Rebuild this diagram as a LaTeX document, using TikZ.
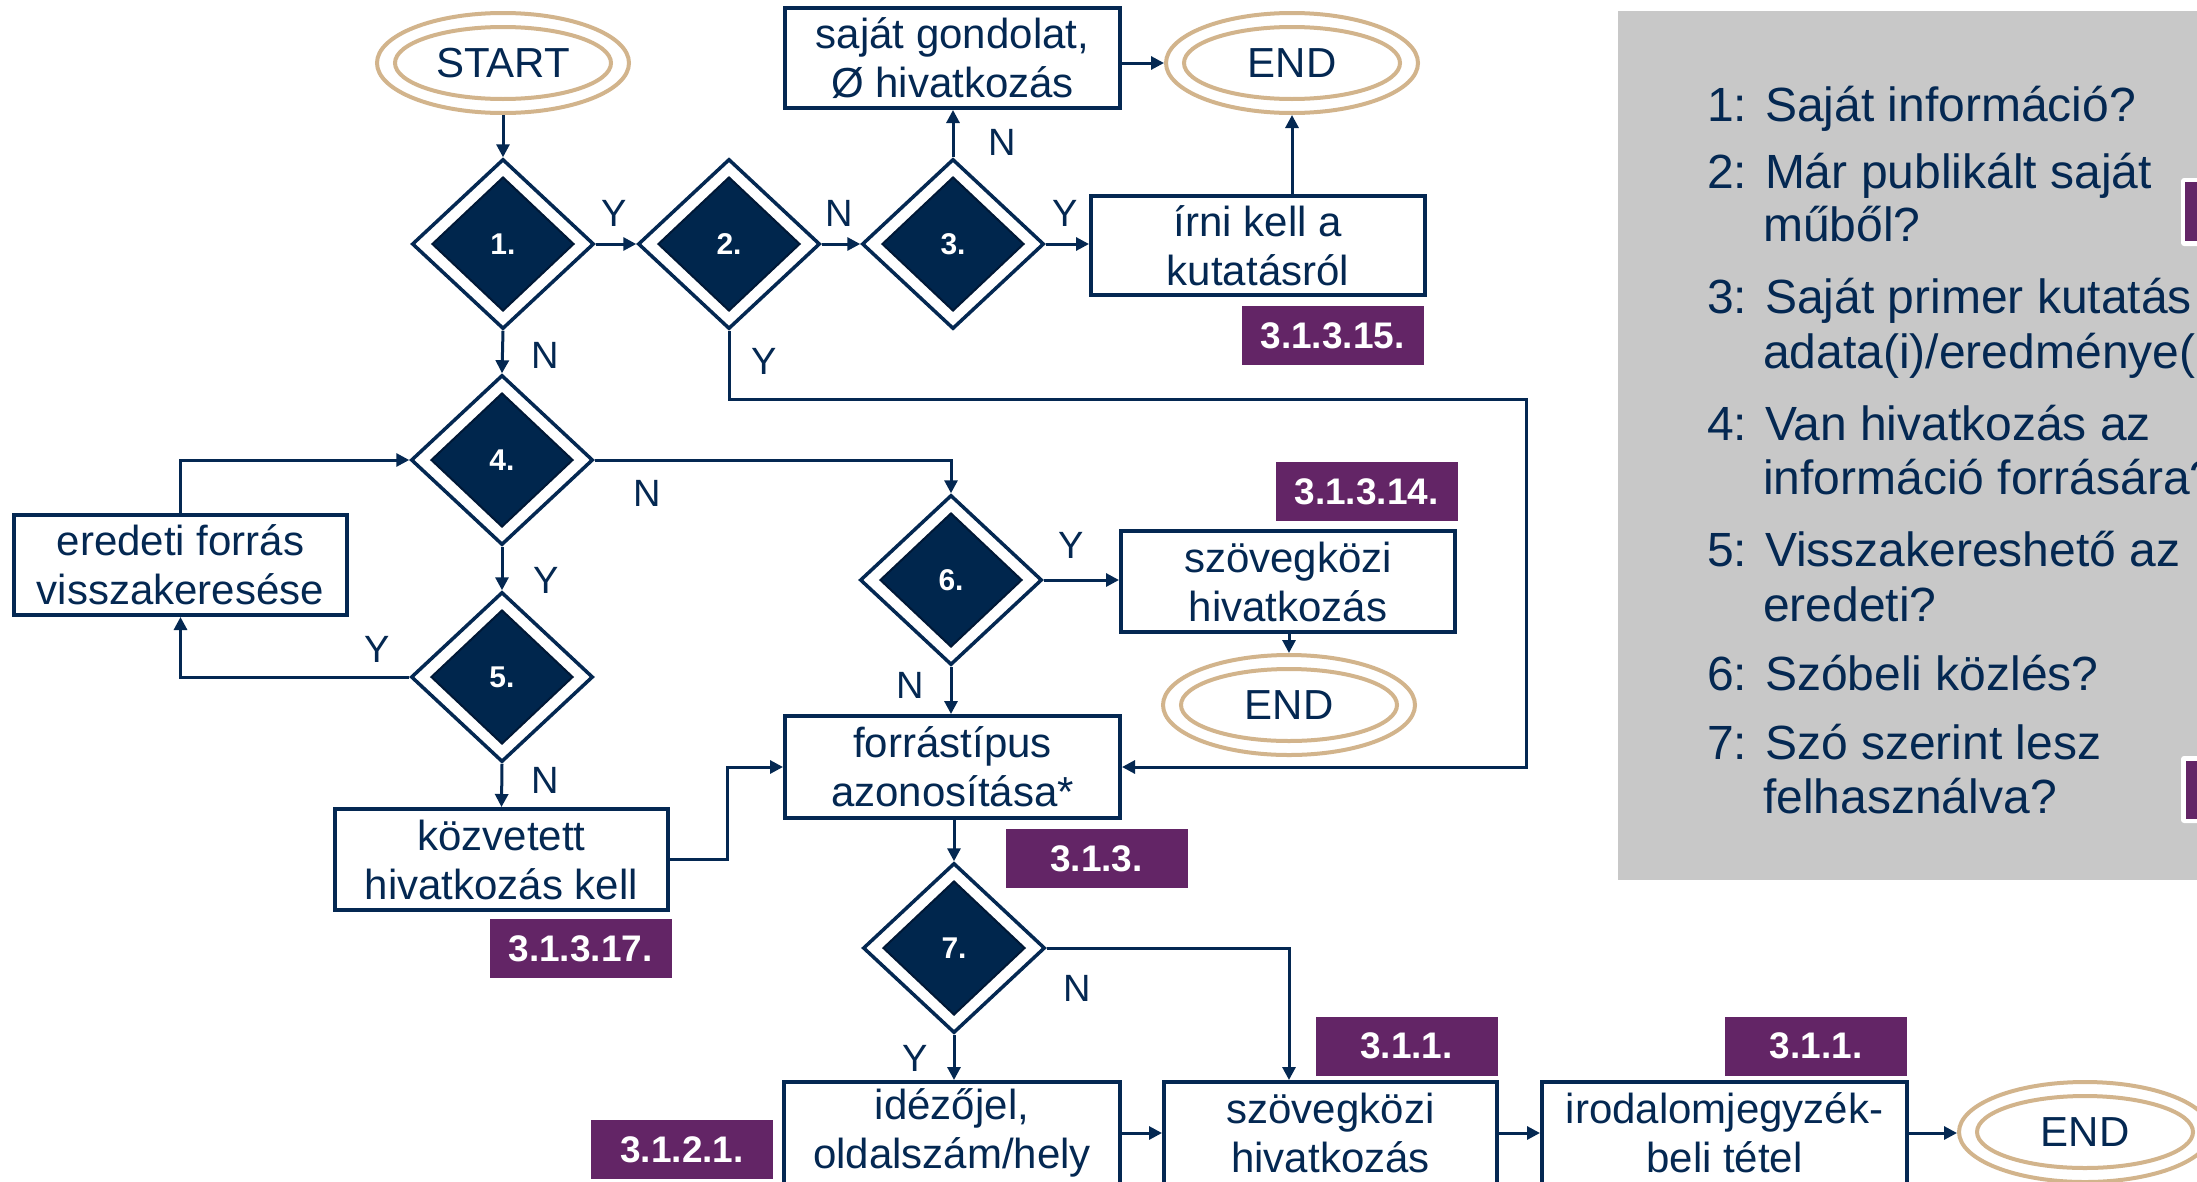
\documentclass[tikz,border=0pt]{standalone}
\usepackage{fontspec}
\setmainfont{Liberation Sans}
\usetikzlibrary{shapes.geometric,arrows.meta}
\definecolor{navy}{RGB}{4,40,82}
\definecolor{diafill}{RGB}{0,38,77}
\definecolor{diaedge}{RGB}{0,24,54}
\definecolor{labpurple}{RGB}{99,37,102}
\definecolor{tanc}{RGB}{210,180,140}
\definecolor{panelgray}{RGB}{200,200,200}
\begin{document}
\begin{tikzpicture}[x=1pt,y=-1pt,
 conn/.style={draw=navy, line width=3pt, -{Triangle[length=13pt,width=13pt]}},
 box/.style={draw=navy, line width=4pt, fill=white, align=center, inner sep=0pt, text=navy, font=\fontsize{42}{49}\selectfont},
 lab/.style={fill=labpurple, text=white, inner sep=0pt, minimum width=182pt, minimum height=59pt, font=\fontsize{37}{40}\selectfont\bfseries},
 yn/.style={text=navy, inner sep=0pt, font=\fontsize{38}{40}\selectfont},
 diaout/.style={diamond, draw=navy, line width=3.5pt, fill=white, minimum width=182pt, minimum height=170pt, inner sep=0pt},
 diain/.style={diamond, draw=diaedge, line width=2pt, fill=diafill, minimum width=142pt, minimum height=134pt, inner sep=0pt, text=white, font=\fontsize{30}{32}\selectfont\bfseries},
 ellout/.style={ellipse, draw=tanc, line width=4pt, fill=white, minimum width=252pt, minimum height=100pt, inner sep=0pt},
 ellin/.style={ellipse, draw=tanc, line width=4pt, minimum width=216pt, minimum height=72pt, inner sep=0pt, text=navy, font=\fontsize{42}{49}\selectfont},
 paneltext/.style={anchor=base west, inner sep=0pt, text=navy, font=\fontsize{48}{54}\selectfont},
]
\useasboundingbox (0,0) rectangle (2197,1181);
\clip (0,0) rectangle (2197,1181);
\fill[white] (0,0) rectangle (2197,1181);

% grey panel
\fill[panelgray] (1618,11) rectangle (2230,880);
\fill[white, rounded corners=3pt] (2181,178) rectangle (2240,246);
\fill[labpurple] (2185,182) rectangle (2240,241);
\fill[white, rounded corners=3pt] (2181,756) rectangle (2240,823);
\fill[labpurple] (2186,761) rectangle (2240,819);

\node[paneltext] (p1) at (1707,121) {1: Saját információ?};
\node[paneltext] (p2) at (1707,188) {2: Már publikált saját};
\node[paneltext] (p2b) at (1763,241) {műből?};
\node[paneltext] (p3) at (1707,313) {3: Saját primer kutatás};
\node[paneltext] (p3b) at (1763,368) {adata(i)/eredménye(i)?};
\node[paneltext] (p4) at (1707,440) {4: Van hivatkozás az};
\node[paneltext] (p4b) at (1763,494) {információ forrására?};
\node[paneltext] (p5) at (1707,566) {5: Visszakereshető az};
\node[paneltext] (p5b) at (1763,621) {eredeti?};
\node[paneltext] (p6) at (1707,690) {6: Szóbeli közlés?};
\node[paneltext] (p7) at (1707,759) {7: Szó szerint lesz};
\node[paneltext] (p7b) at (1763,813) {felhasználva?};

% start / end
\node[ellout] (start) at (503,63) {};
\node[ellin] (starti) at (503,63) {START};
\node[ellout] (end1) at (1292,63) {};
\node[ellin] (end1i) at (1292,63) {END};
\node[ellout] (end2) at (1289,705) {};
\node[ellin] (end2i) at (1289,705) {END};
\node[ellout] (end3) at (2085,1132) {};
\node[ellin] (end3i) at (2085,1132) {END};

% diamonds
\foreach \n/\x/\y in {1/503/244, 2/729/244, 3/953/244, 4/502/460, 5/502/677, 6/951/580, 7/954/948}{
  \node[diaout] (d\n) at (\x,\y) {};
  \node[diain] (d\n i) at (\x,\y) {\n.};
}

% boxes
\node[box, minimum width=335pt, minimum height=100pt] (saj) at (952.5,58) {saját gondolat,\\ Ø hivatkozás};
\node[box, minimum width=334pt, minimum height=99pt] (irni) at (1258,245.5) {írni kell a\\ kutatásról};
\node[box, minimum width=333pt, minimum height=100pt] (ered) at (180.5,565) {eredeti forrás\\ visszakeresése};
\node[box, minimum width=333pt, minimum height=101pt] (kozv) at (501.5,859.5) {közvetett\\ hivatkozás kell};
\node[box, minimum width=334pt, minimum height=101pt] (szov1) at (1288,581.5) {szövegközi\\ hivatkozás};
\node[box, minimum width=335pt, minimum height=102pt] (forr) at (952.5,767) {forrástípus\\ azonosítása*};
\node[box, minimum width=336pt, minimum height=102pt] (idez) at (952,1133) {idézőjel,\\ oldalszám/hely};
\node[box, minimum width=333pt, minimum height=102pt] (szov2) at (1330.5,1133) {szövegközi\\ hivatkozás};
\node[box, minimum width=365pt, minimum height=102pt] (irod) at (1724.5,1133) {irodalomjegyzék-\\ beli tétel};

% labels
\node[lab] (l15) at (1332.5,335.5) {3.1.3.15.};
\node[lab] (l14) at (1366.5,491.5) {3.1.3.14.};
\node[lab] (l17) at (580.5,948.5) {3.1.3.17.};
\node[lab] (l3) at (1096.5,858.5) {3.1.3.};
\node[lab] (l11a) at (1406.5,1046) {3.1.1.};
\node[lab] (l11b) at (1816,1046) {3.1.1.};
\node[lab] (l121) at (682,1149.5) {3.1.2.1.};

% Y/N labels
\node[yn] (y12) at (614,213) {Y};
\node[yn] (n23) at (839,213) {N};
\node[yn] (y3) at (1065,213) {Y};
\node[yn] (n3) at (1002,142) {N};
\node[yn] (n1) at (545,355) {N};
\node[yn] (y2) at (764,361) {Y};
\node[yn] (n4) at (647,493) {N};
\node[yn] (y4) at (546,580) {Y};
\node[yn] (y5) at (377,649) {Y};
\node[yn] (n5) at (545,780) {N};
\node[yn] (y6) at (1071,545) {Y};
\node[yn] (n6) at (910,685) {N};
\node[yn] (n7) at (1077,988) {N};
\node[yn] (y7) at (915,1058) {Y};

% helper coordinates
\coordinate (c2) at (1526,399);
\coordinate (c15) at (727,0);
\coordinate (c7) at (1289,0);

% connectors
\draw[conn] (start.south) -- (d1.north);
\draw[conn] (d1.east) -- (d2.west);
\draw[conn] (d2.east) -- (d3.west);
\draw[conn] (d3.east) -- (d3.east -| irni.west);
\draw[conn] (d3.north) -- (d3.north |- saj.south);
\draw[conn] (saj.east |- end1.west) -- (end1.west);
\draw[conn] (end1.south |- irni.north) -- (end1.south);
\draw[conn] (d1.south) -- (d4.north);
\draw[conn] (d2.south) |- (c2) |- (forr.east);
\draw[conn] (d4.east) -| (d6.north);
\draw[conn] (d4.south) -- (d5.north);
\draw[conn] (d5.west) -| (ered.south);
\draw[conn] (ered.north) |- (d4.west);
\draw[conn] (d5.south) -- (kozv.north);
\draw[conn] (kozv.east) -- (kozv.east -| c15) |- (forr.west);
\draw[conn] (d6.east) -- (d6.east -| szov1.west);
\draw[conn] (end2.north |- szov1.south) -- (end2.north);
\draw[conn] (d6.south) -- (d6.south |- forr.north);
\draw[conn] (d7.north |- forr.south) -- (d7.north);
\draw[conn] (d7.east) -| (c7 |- szov2.north);
\draw[conn] (d7.south) -- (d7.south |- idez.north);
\draw[conn] (idez.east) -- (szov2.west);
\draw[conn] (szov2.east) -- (irod.west);
\draw[conn] (irod.east) -- (irod.east -| end3.west);
\end{tikzpicture}
\end{document}
